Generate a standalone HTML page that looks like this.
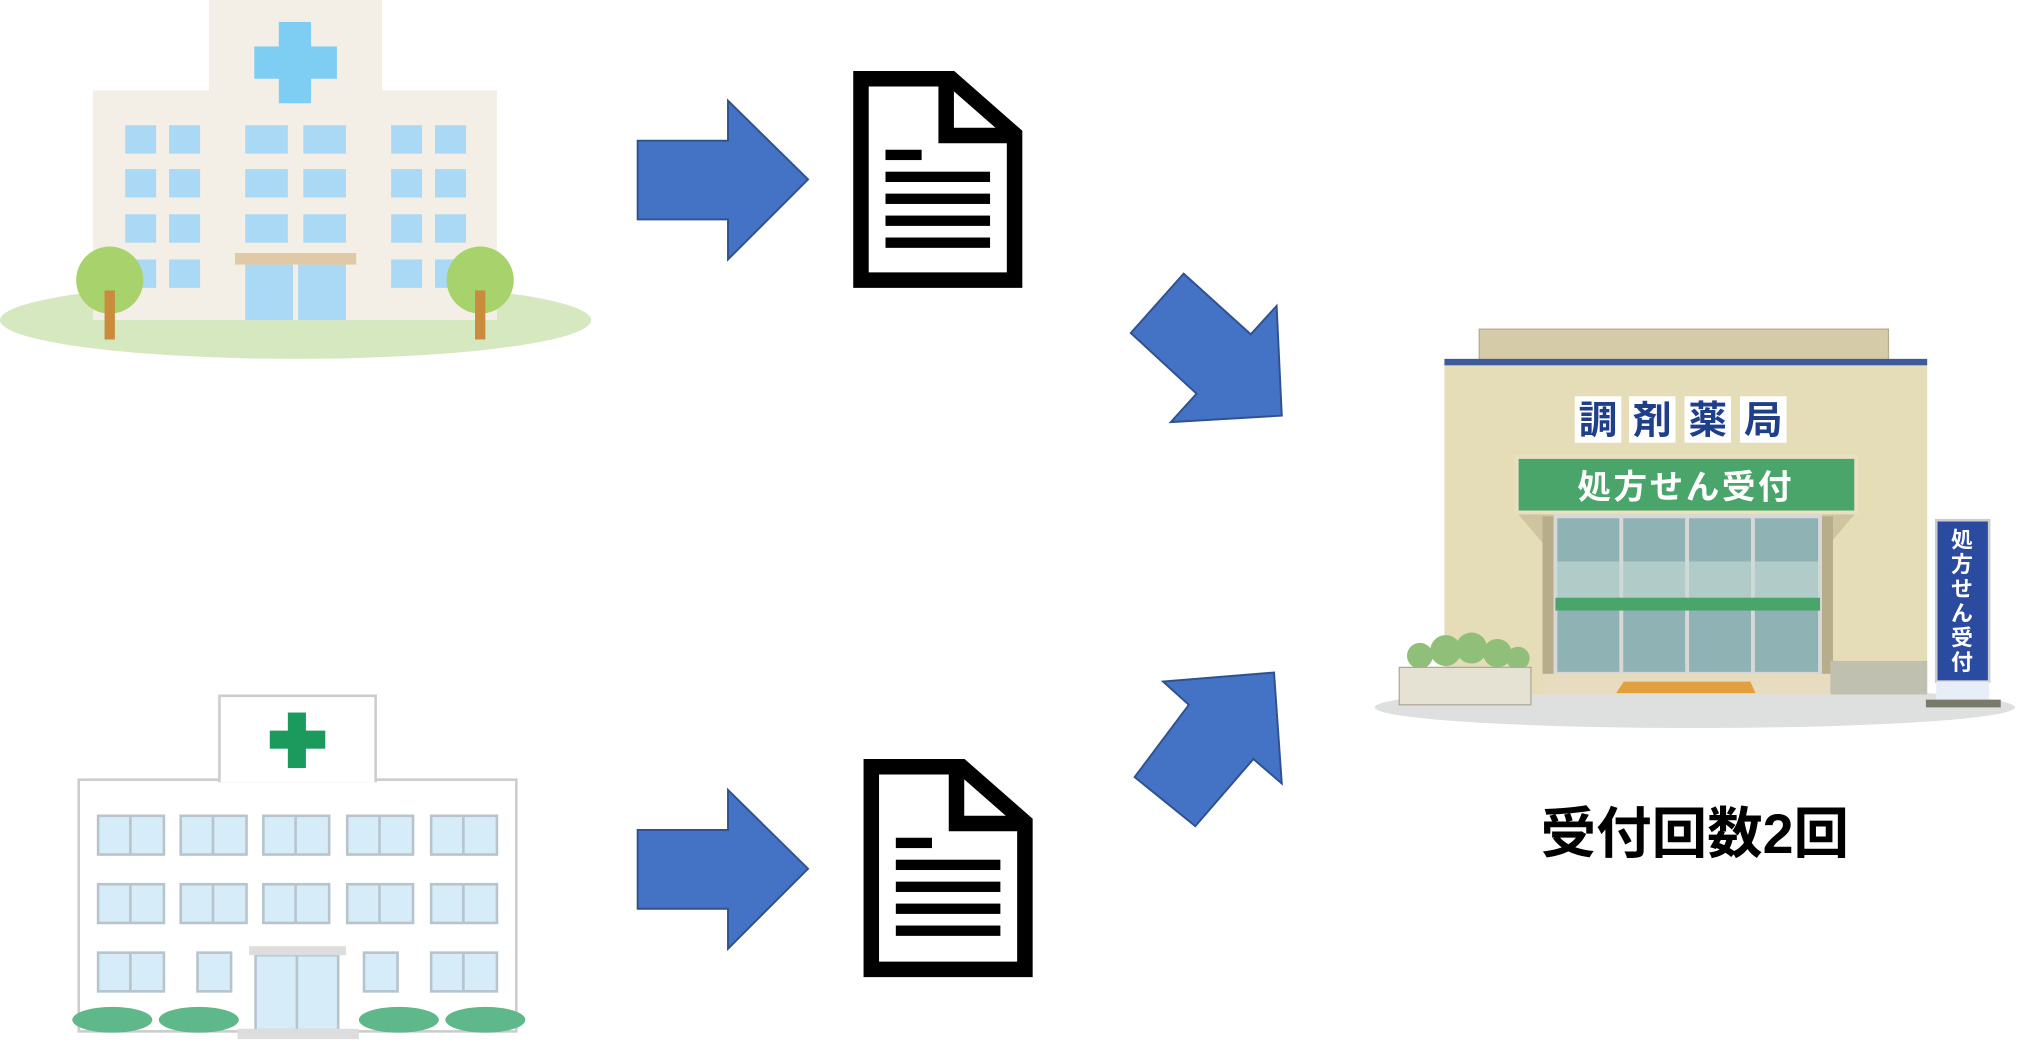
<!DOCTYPE html>
<html><head><meta charset="utf-8"><style>
html,body{margin:0;padding:0;background:#fff;width:2024px;height:1043px;overflow:hidden}
svg{display:block}
</style></head><body>
<svg width="2024" height="1043" viewBox="0 0 1568 808" preserveAspectRatio="none" xmlns="http://www.w3.org/2000/svg">
<!-- Hospital 1 -->
<ellipse cx="229" cy="248" rx="229" ry="30" fill="#d6e8c0"/>
<rect x="72" y="70" width="313" height="178" fill="#f3efe6"/>
<rect x="162" y="0" width="134" height="72" fill="#f3efe6"/>
<rect x="216" y="17" width="25" height="63" fill="#7ecef4"/>
<rect x="197" y="36" width="64" height="25" fill="#7ecef4"/>
<g fill="#a9d9f5">
<rect x="97" y="97" width="24" height="22"/><rect x="131" y="97" width="24" height="22"/>
<rect x="97" y="131" width="24" height="22"/><rect x="131" y="131" width="24" height="22"/>
<rect x="97" y="166" width="24" height="22"/><rect x="131" y="166" width="24" height="22"/>
<rect x="97" y="201" width="24" height="22"/><rect x="131" y="201" width="24" height="22"/>
<rect x="190" y="97" width="33" height="22"/><rect x="235" y="97" width="33" height="22"/>
<rect x="190" y="131" width="33" height="22"/><rect x="235" y="131" width="33" height="22"/>
<rect x="190" y="166" width="33" height="22"/><rect x="235" y="166" width="33" height="22"/>
<rect x="303" y="97" width="24" height="22"/><rect x="337" y="97" width="24" height="22"/>
<rect x="303" y="131" width="24" height="22"/><rect x="337" y="131" width="24" height="22"/>
<rect x="303" y="166" width="24" height="22"/><rect x="337" y="166" width="24" height="22"/>
<rect x="303" y="201" width="24" height="22"/><rect x="337" y="201" width="24" height="22"/>
<rect x="190" y="205" width="37" height="43"/><rect x="231" y="205" width="37" height="43"/>
</g>
<rect x="182" y="196" width="94" height="9" fill="#e0c9a6"/>
<circle cx="85" cy="217" r="26" fill="#a8d26c"/>
<rect x="81" y="225" width="8" height="38" fill="#c98c3c"/>
<circle cx="372" cy="217" r="26" fill="#a8d26c"/>
<rect x="368" y="225" width="8" height="38" fill="#c98c3c"/>

<!-- Arrows -->
<g fill="#4472c4" stroke="#2f528f" stroke-width="1.5">
<polygon points="494,109 564,109 564,78 626,139 564,201 564,170 494,170"/>
<polygon points="494,643 564,643 564,612 626,673 564,735 564,704 494,704"/>
<polygon points="876,258 917,212 969,259 989,237 993,322 907,327 927,305"/>
<polygon points="879,602 926,640 971,588 993,607 987,521 901,528 921,546"/>
</g>

<!-- Document 1 -->
<path d="M667,61 L737,61 L786,104 L786,217 L667,217 Z" fill="#fff" stroke="#000" stroke-width="12"/>
<path d="M733,61 L733,105 L786,105" fill="none" stroke="#000" stroke-width="12"/>
<g fill="#000">
<rect x="686" y="116" width="28" height="8"/>
<rect x="686" y="133" width="81" height="8"/>
<rect x="686" y="150" width="81" height="8"/>
<rect x="686" y="167" width="81" height="8"/>
<rect x="686" y="184" width="81" height="8"/>
</g>
<!-- Document 2 -->
<path d="M675,594 L745,594 L794,637 L794,751 L675,751 Z" fill="#fff" stroke="#000" stroke-width="12"/>
<path d="M741,594 L741,638 L794,638" fill="none" stroke="#000" stroke-width="12"/>
<g fill="#000">
<rect x="694" y="649" width="28" height="8"/>
<rect x="694" y="666" width="81" height="8"/>
<rect x="694" y="683" width="81" height="8"/>
<rect x="694" y="700" width="81" height="8"/>
<rect x="694" y="717" width="81" height="8"/>
</g>

<!-- Hospital 2 -->
<rect x="61" y="604" width="339" height="195" fill="#fff" stroke="#ccc" stroke-width="2"/>
<rect x="170" y="539" width="121" height="66" fill="#fff" stroke="#ccc" stroke-width="2"/>
<rect x="171" y="603" width="119" height="3" fill="#fff"/>
<rect x="223" y="552" width="14" height="43" fill="#1a9a5c"/>
<rect x="209" y="566" width="43" height="14" fill="#1a9a5c"/>
<g fill="#d6ecf8" stroke="#b8c4cc" stroke-width="2">
<rect x="76" y="632" width="51" height="30"/><rect x="140" y="632" width="51" height="30"/><rect x="204" y="632" width="51" height="30"/><rect x="269" y="632" width="51" height="30"/><rect x="334" y="632" width="51" height="30"/>
<rect x="76" y="685" width="51" height="30"/><rect x="140" y="685" width="51" height="30"/><rect x="204" y="685" width="51" height="30"/><rect x="269" y="685" width="51" height="30"/><rect x="334" y="685" width="51" height="30"/>
<rect x="76" y="738" width="51" height="30"/><rect x="153" y="738" width="26" height="30"/><rect x="282" y="738" width="26" height="30"/><rect x="334" y="738" width="51" height="30"/>
<rect x="198" y="740" width="64" height="58"/>
</g>
<g stroke="#b8c4cc" stroke-width="2">
<line x1="101" y1="632" x2="101" y2="662"/><line x1="165" y1="632" x2="165" y2="662"/><line x1="229" y1="632" x2="229" y2="662"/><line x1="294" y1="632" x2="294" y2="662"/><line x1="359" y1="632" x2="359" y2="662"/>
<line x1="101" y1="685" x2="101" y2="715"/><line x1="165" y1="685" x2="165" y2="715"/><line x1="229" y1="685" x2="229" y2="715"/><line x1="294" y1="685" x2="294" y2="715"/><line x1="359" y1="685" x2="359" y2="715"/>
<line x1="101" y1="738" x2="101" y2="768"/><line x1="359" y1="738" x2="359" y2="768"/><line x1="230" y1="740" x2="230" y2="798"/>
</g>
<rect x="193" y="733" width="75" height="7" fill="#ddd"/>
<rect x="184" y="797" width="94" height="8" fill="#ddd"/>
<g fill="#5fb88a">
<ellipse cx="87" cy="790" rx="31" ry="10"/><ellipse cx="154" cy="790" rx="31" ry="10"/>
<ellipse cx="309" cy="790" rx="31" ry="10"/><ellipse cx="376" cy="790" rx="31" ry="10"/>
</g>

<!-- Pharmacy -->
<ellipse cx="1313" cy="548" rx="248" ry="16" fill="#dde0df"/>
<rect x="1146" y="255" width="317" height="25" fill="#d6cba8" stroke="#b8ad8a"/>
<rect x="1119" y="280" width="374" height="258" fill="#e5dcb8"/>
<rect x="1119" y="278" width="374" height="5" fill="#3d5a9c"/>
<g fill="#ffffff">
<rect x="1220" y="307" width="36" height="36"/><rect x="1262" y="307" width="36" height="36"/><rect x="1305" y="307" width="36" height="36"/><rect x="1348" y="307" width="36" height="36"/>
</g>
<g font-family="'Liberation Sans','Noto Sans CJK JP',sans-serif" font-weight="bold" font-size="30" fill="#1f3f8a" text-anchor="middle">
<text x="1238" y="336">調</text><text x="1280" y="336">剤</text><text x="1323" y="336">薬</text><text x="1366" y="336">局</text>
</g>
<polygon points="1175,397 1438,397 1410,430 1203,430" fill="#cfc49f"/>
<rect x="1175" y="354" width="263" height="43" fill="#4aa56a" stroke="#e8e0c0" stroke-width="3"/>
<text x="1306" y="386" font-family="'Liberation Sans','Noto Sans CJK JP',sans-serif" font-weight="bold" font-size="26" fill="#fff" text-anchor="middle" letter-spacing="2">処方せん受付</text>
<rect x="1195" y="400" width="10" height="130" fill="#b8ad8a"/>
<rect x="1410" y="400" width="10" height="130" fill="#b8ad8a"/>
<rect x="1205" y="400" width="205" height="122" fill="#8fb3b5" stroke="#d8d8d8" stroke-width="3"/>
<g stroke="#d8d8d8" stroke-width="3"><line x1="1256" y1="400" x2="1256" y2="522"/><line x1="1307" y1="400" x2="1307" y2="522"/><line x1="1358" y1="400" x2="1358" y2="522"/></g>
<rect x="1205" y="463" width="205" height="10" fill="#4aa56a"/>
<rect x="1205" y="435" width="205" height="28" fill="#c8dcd6" opacity="0.6"/>
<rect x="1195" y="522" width="225" height="16" fill="#e8dcc0"/>
<polygon points="1258,528 1356,528 1360,537 1252,537" fill="#e0a040"/>
<rect x="1418" y="512" width="75" height="26" fill="#c0c0b0"/>
<rect x="1500" y="403" width="41" height="125" fill="#2b4ba0" stroke="#ccc" stroke-width="2"/>
<rect x="1500" y="528" width="41" height="14" fill="#e8eef8"/>
<rect x="1492" y="542" width="58" height="6" fill="#7a7a68"/>
<text font-family="'Liberation Sans','Noto Sans CJK JP',sans-serif" font-weight="bold" font-size="17" fill="#fff" text-anchor="middle">
<tspan x="1520" y="424">処</tspan><tspan x="1520" y="443">方</tspan><tspan x="1520" y="462">せ</tspan><tspan x="1520" y="481">ん</tspan><tspan x="1520" y="500">受</tspan><tspan x="1520" y="519">付</tspan>
</text>
<g fill="#8fbf78">
<circle cx="1100" cy="508" r="10"/><circle cx="1120" cy="504" r="12"/><circle cx="1140" cy="502" r="12"/><circle cx="1160" cy="506" r="11"/><circle cx="1176" cy="510" r="9"/>
</g>
<rect x="1084" y="517" width="102" height="29" fill="#e5e1d3" stroke="#b0ab98"/>

<text x="1313" y="661" font-family="'Liberation Sans','Noto Sans CJK JP',sans-serif" font-weight="bold" font-size="43" fill="#000" text-anchor="middle">受付回数2回</text>
</svg>
</body></html>
